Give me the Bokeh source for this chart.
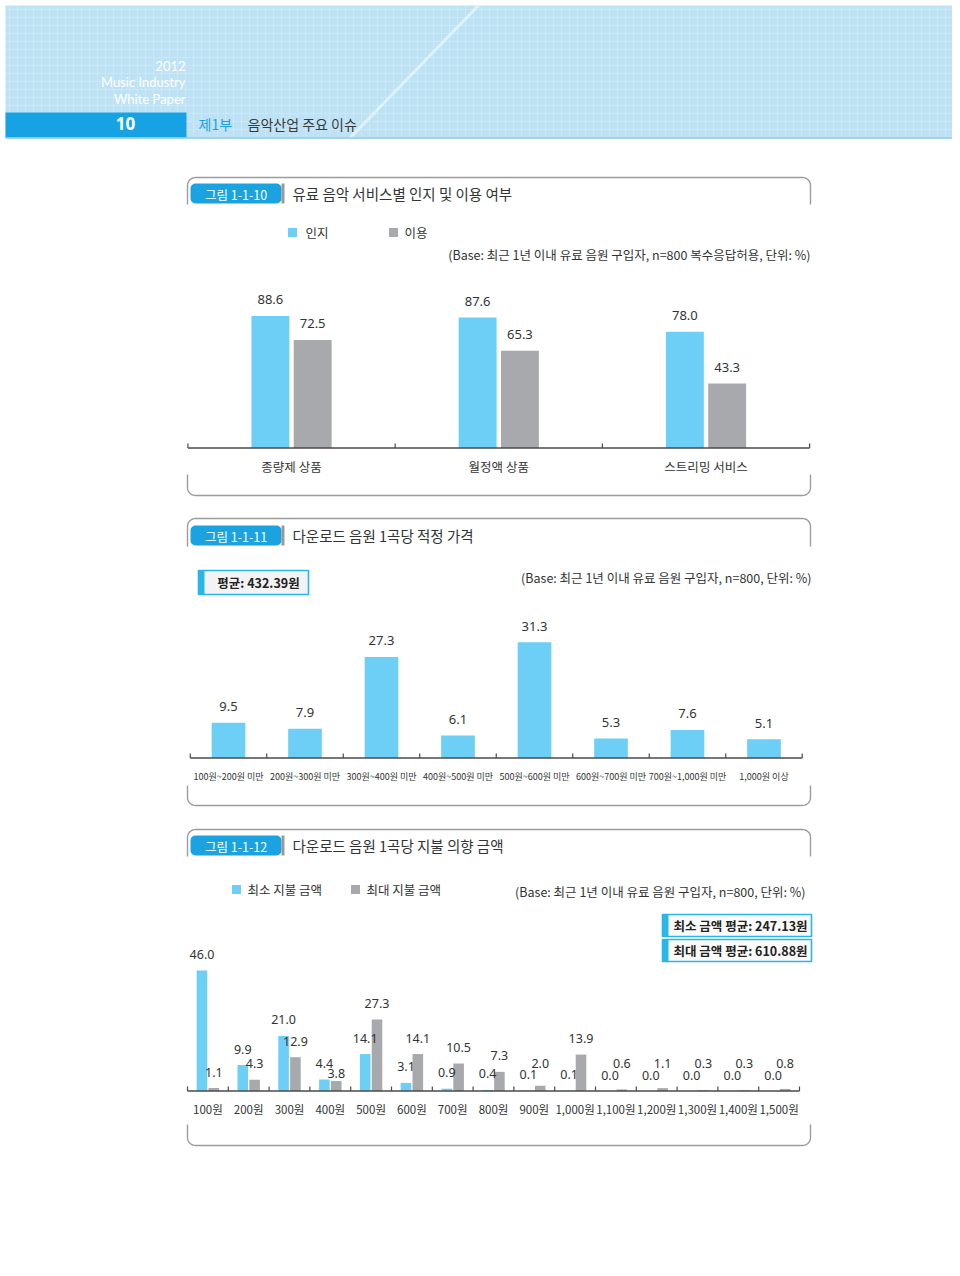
import numpy as np
from bokeh.plotting import figure
from bokeh.models import Range1d, BoxAnnotation, ColumnDataSource
from bokeh.core.properties import value
from bokeh.transform import dodge
from bokeh.embed import file_html
from bokeh.resources import INLINE

# ---------------- data ----------------
services = ["종량제 상품", "월정액 상품", "스트리밍 서비스"]
aware = [88.6, 87.6, 78.0]
usage = [72.5, 65.3, 43.3]

price_bins = ["100원~200원 미만", "200원~300원 미만", "300원~400원 미만", "400원~500원 미만",
              "500원~600원 미만", "600원~700원 미만", "700원~1,000원 미만", "1,000원 이상"]
price_pct = [9.5, 7.9, 27.3, 6.1, 31.3, 5.3, 7.6, 5.1]

amounts = ["100원", "200원", "300원", "400원", "500원", "600원", "700원", "800원", "900원",
           "1,000원", "1,100원", "1,200원", "1,300원", "1,400원", "1,500원"]
min_pay = [46.0, 9.9, 21.0, 4.4, 14.1, 3.1, 0.9, 0.4, 0.1, 0.1, 0.0, 0.0, 0.0, 0.0, 0.0]
max_pay = [1.1, 4.3, 12.9, 3.8, 27.3, 14.1, 10.5, 7.3, 2.0, 13.9, 0.6, 1.1, 0.3, 0.3, 0.8]

# label nudges (screen px, layout only) used in the original to avoid overlaps
max_label_nudge = [0, 0, 0, 8, 0, 0, 0, 0, -6, 0, -10, -9, -11, -11, -9]

# ---------------- styles ----------------
BLUE = "#6DCFF6"
GRAY = "#A7A9AC"
DEEP = "#17A3E3"
FRAME = "#9C9C9C"
TXT = "#333333"
KR = value("Noto Sans CJK KR")
NUM = value("Noto Sans")

PW, PH = 952, 1268
p = figure(width=PW, height=PH, x_range=Range1d(0, PW), y_range=Range1d(PH, 0),
           output_backend="svg", toolbar_location=None, min_border=0,
           x_axis_location=None, y_axis_location=None)
p.grid.visible = False
p.outline_line_color = None
p.background_fill_color = "white"
p.border_fill_color = "white"


def txt(x, y, s, size="12px", color=TXT, align="left", baseline="middle", font=KR, style="normal"):
    p.text(x=[x], y=[y], text=[s], text_font=font, text_font_size=size, text_color=color,
           text_align=align, text_baseline=baseline, text_font_style=style)


def frame_top(x0, x1, ytop, ybot, r=8):
    t = np.linspace(0, np.pi / 2, 12)
    lx = x0 + r - r * np.cos(t)
    ly = ytop + r - r * np.sin(t)
    rx = x1 - r + r * np.sin(t)
    ry = ytop + r - r * np.cos(t)
    xs = [x0] + list(lx) + list(rx) + [x1]
    ys = [ybot] + list(ly) + list(ry) + [ybot]
    p.line(xs, ys, line_color=FRAME, line_width=1.4)


def frame_bottom(x0, x1, ytop, ybot, r=8):
    t = np.linspace(0, np.pi / 2, 12)
    lx = x0 + r - r * np.cos(t)
    ly = ybot - r + r * np.sin(t)
    rx = x1 - r + r * np.sin(t)
    ry = ybot - r + r * np.cos(t)
    xs = [x0] + list(lx) + list(rx) + [x1]
    ys = [ytop] + list(ly) + list(ry) + [ytop]
    p.line(xs, ys, line_color=FRAME, line_width=1.4)


def title_box(y, label, title):
    p.add_layout(BoxAnnotation(left=190, right=281, top=y, bottom=y + 20, fill_color="#1AA3E0",
                               fill_alpha=1, line_color=None, border_radius=5, level="underlay"))
    p.quad(left=281, right=284, top=y, bottom=y + 20, fill_color="#9A9A9A", line_color=None)
    txt(235.5, y + 10.5, label, size="12.5px", color="white", align="center")
    txt(292, y + 10, title, size="14.5px", color=TXT)


def set_ranges(name, x0, w, base, k):
    xr = Range1d((0 - x0) / w - 0.5, (PW - x0) / w - 0.5)
    yr = Range1d((base - PH) / k, (base - 0) / k)
    return {name: xr}, {name: yr}


# ---------------- header ----------------
p.quad(left=5, right=955, top=5, bottom=138, fill_color="#BEE2F4", line_color=None)
gx = np.arange(9, 955, 8)
gy = np.arange(9, 137, 8)
p.segment(x0=gx, x1=gx, y0=5, y1=137, line_color="white", line_alpha=0.18, line_width=1)
p.segment(x0=5, x1=955, y0=gy, y1=gy, line_color="white", line_alpha=0.18, line_width=1)
p.line([350, 478], [137, 5], line_color="white", line_alpha=0.5, line_width=3)
p.quad(left=5, right=186, top=112, bottom=137, fill_color=DEEP, line_color=None)
p.segment(x0=5, x1=955, y0=137.5, y1=137.5, line_color="#8FCDEE", line_width=1.5)
txt(185, 65, "2012", size="13px", color="white", align="right", font=value("Lato"))
txt(185, 81, "Music Industry", size="13px", color="white", align="right", font=value("Lato"))
txt(185, 98, "White Paper", size="13px", color="white", align="right", font=value("Lato"))
txt(125, 123, "10", size="17px", color="white", align="center", font=NUM, style="bold")
txt(198, 123, "제1부", size="14px", color="#1BA1E2")
txt(247, 123, "음악산업 주요 이슈", size="14px", color="#3A3A3A")

xr_all, yr_all = {}, {}
X1, W1, B1, K1 = 187.4, 207.25, 447.5, 1.49
a, b = set_ranges("c1", X1, W1, B1, K1)
xr_all.update(a); yr_all.update(b)
X2, W2, B2, K2 = 189.75, 76.5, 757.5, 3.70
a, b = set_ranges("c2", X2, W2, B2, K2)
xr_all.update(a); yr_all.update(b)
X3, W3, B3, K3 = 187.0, 40.8, 1090.5, 2.62
a, b = set_ranges("c3", X3, W3, B3, K3)
xr_all.update(a); yr_all.update(b)
p.extra_x_ranges = xr_all
p.extra_y_ranges = yr_all


def axis_line(name, n, k):
    bounds = [i - 0.5 for i in range(n + 1)]
    p.segment(x0=[-0.5], x1=[n - 0.5], y0=[0], y1=[0], line_color="#4A4A4A", line_width=1.4,
              x_range_name=name, y_range_name=name)
    p.segment(x0=bounds, x1=bounds, y0=0, y1=4.5 / k, line_color="#4A4A4A", line_width=1.2,
              x_range_name=name, y_range_name=name)


# ---------------- chart 1 ----------------
frame_top(187, 810, 177, 204)
frame_bottom(187, 810, 474, 495)
title_box(183, "그림 1-1-10", "유료 음악 서비스별 인지 및 이용 여부")
p.rect(x=[292, 393], y=[232, 232], width=9, height=9, fill_color=[BLUE, GRAY], line_color=None)
txt(305, 232, "인지", size="12.5px")
txt(404, 232, "이용", size="12.5px")
txt(810, 254, "(Base: 최근 1년 이내 유료 음원 구입자, n=800 복수응답허용, 단위: %)", size="12.5px",
    align="right")

s1 = ColumnDataSource(dict(i=list(range(len(services))), cat=services, aware=aware, usage=usage,
                           al=[f"{v:.1f}" for v in aware], ul=[f"{v:.1f}" for v in usage]))
p.vbar(x=dodge("i", -0.102), top="aware", bottom=0, width=0.183, source=s1, fill_color=BLUE,
       line_color=None, x_range_name="c1", y_range_name="c1")
p.vbar(x=dodge("i", 0.102), top="usage", bottom=0, width=0.183, source=s1, fill_color=GRAY,
       line_color=None, x_range_name="c1", y_range_name="c1")
axis_line("c1", len(services), K1)
p.text(x=dodge("i", -0.102), y="aware", text="al", source=s1, y_offset=-16, text_align="center",
       text_baseline="middle", text_font=NUM, text_font_size="13px", text_color=TXT,
       x_range_name="c1", y_range_name="c1")
p.text(x=dodge("i", 0.102), y="usage", text="ul", source=s1, y_offset=-16, text_align="center",
       text_baseline="middle", text_font=NUM, text_font_size="13px", text_color=TXT,
       x_range_name="c1", y_range_name="c1")
p.text(x="i", y=0, text="cat", source=s1, y_offset=18, text_align="center", text_baseline="middle",
       text_font=KR, text_font_size="12.5px", text_color=TXT, x_range_name="c1", y_range_name="c1")

# ---------------- chart 2 ----------------
frame_top(187, 810, 518, 546)
frame_bottom(187, 810, 785, 805)
title_box(525, "그림 1-1-11", "다운로드 음원 1곡당 적정 가격")
p.quad(left=198, right=308, top=570, bottom=594, fill_color="#F3F3F3", line_color="#29B6E8",
       line_width=1.6)
p.quad(left=198, right=204, top=570, bottom=594, fill_color="#29B6E8", line_color=None)
txt(258, 582, "평균: 432.39원", size="12.5px", style="bold", color="#222222", align="center")
txt(811, 577, "(Base: 최근 1년 이내 유료 음원 구입자, n=800, 단위: %)", size="12.5px", align="right")

s2 = ColumnDataSource(dict(i=list(range(len(price_bins))), cat=price_bins, v=price_pct,
                           lbl=[f"{v:.1f}" for v in price_pct]))
p.vbar(x="i", top="v", bottom=0, width=0.44, source=s2, fill_color=BLUE, line_color=None,
       x_range_name="c2", y_range_name="c2")
axis_line("c2", len(price_bins), K2)
p.text(x="i", y="v", text="lbl", source=s2, y_offset=-16, text_align="center", text_baseline="middle",
       text_font=NUM, text_font_size="13px", text_color=TXT, x_range_name="c2", y_range_name="c2")
p.text(x="i", y=0, text="cat", source=s2, y_offset=18, text_align="center", text_baseline="middle",
       text_font=KR, text_font_size="9px", text_color=TXT, x_range_name="c2", y_range_name="c2")

# ---------------- chart 3 ----------------
frame_top(187, 810, 829, 856)
frame_bottom(187, 810, 1124, 1145)
title_box(835, "그림 1-1-12", "다운로드 음원 1곡당 지불 의향 금액")
p.rect(x=[236, 355], y=[889, 889], width=9, height=9, fill_color=[BLUE, GRAY], line_color=None)
txt(247, 889, "최소 지불 금액", size="12.5px")
txt(366, 889, "최대 지불 금액", size="12.5px")
txt(805, 891, "(Base: 최근 1년 이내 유료 음원 구입자, n=800, 단위: %)", size="12.5px", align="right")
for yt, s in [(914, "최소 금액 평균: 247.13원"), (939, "최대 금액 평균: 610.88원")]:
    p.quad(left=662, right=811, top=yt, bottom=yt + 22, fill_color="#FAFAFA", line_color="#29B6E8",
           line_width=1.6)
    p.quad(left=662, right=668, top=yt, bottom=yt + 22, fill_color="#29B6E8", line_color=None)
    txt(740, yt + 11, s, size="12.5px", style="bold", align="center", color="#222222")

s3 = ColumnDataSource(dict(i=list(range(len(amounts))), cat=amounts, mn=min_pay, mx=max_pay,
                           ml=[f"{v:.1f}" for v in min_pay], xl=[f"{v:.1f}" for v in max_pay],
                           nud=[n - 16 for n in max_label_nudge]))
p.vbar(x=dodge("i", -0.145), top="mn", bottom=0, width=0.26, source=s3, fill_color=BLUE,
       line_color=None, x_range_name="c3", y_range_name="c3")
p.vbar(x=dodge("i", 0.145), top="mx", bottom=0, width=0.26, source=s3, fill_color=GRAY,
       line_color=None, x_range_name="c3", y_range_name="c3")
axis_line("c3", len(amounts), K3)
p.text(x=dodge("i", -0.145), y="mn", text="ml", source=s3, y_offset=-16, text_align="center",
       text_baseline="middle", text_font=NUM, text_font_size="12.5px", text_color=TXT,
       x_range_name="c3", y_range_name="c3")
p.text(x=dodge("i", 0.145), y="mx", text="xl", source=s3, y_offset="nud", text_align="center",
       text_baseline="middle", text_font=NUM, text_font_size="12.5px", text_color=TXT,
       x_range_name="c3", y_range_name="c3")
p.text(x="i", y=0, text="cat", source=s3, y_offset=18, text_align="center", text_baseline="middle",
       text_font=KR, text_font_size="11.5px", text_color=TXT, x_range_name="c3", y_range_name="c3")

open("out.html", "w").write(file_html(p, INLINE))
